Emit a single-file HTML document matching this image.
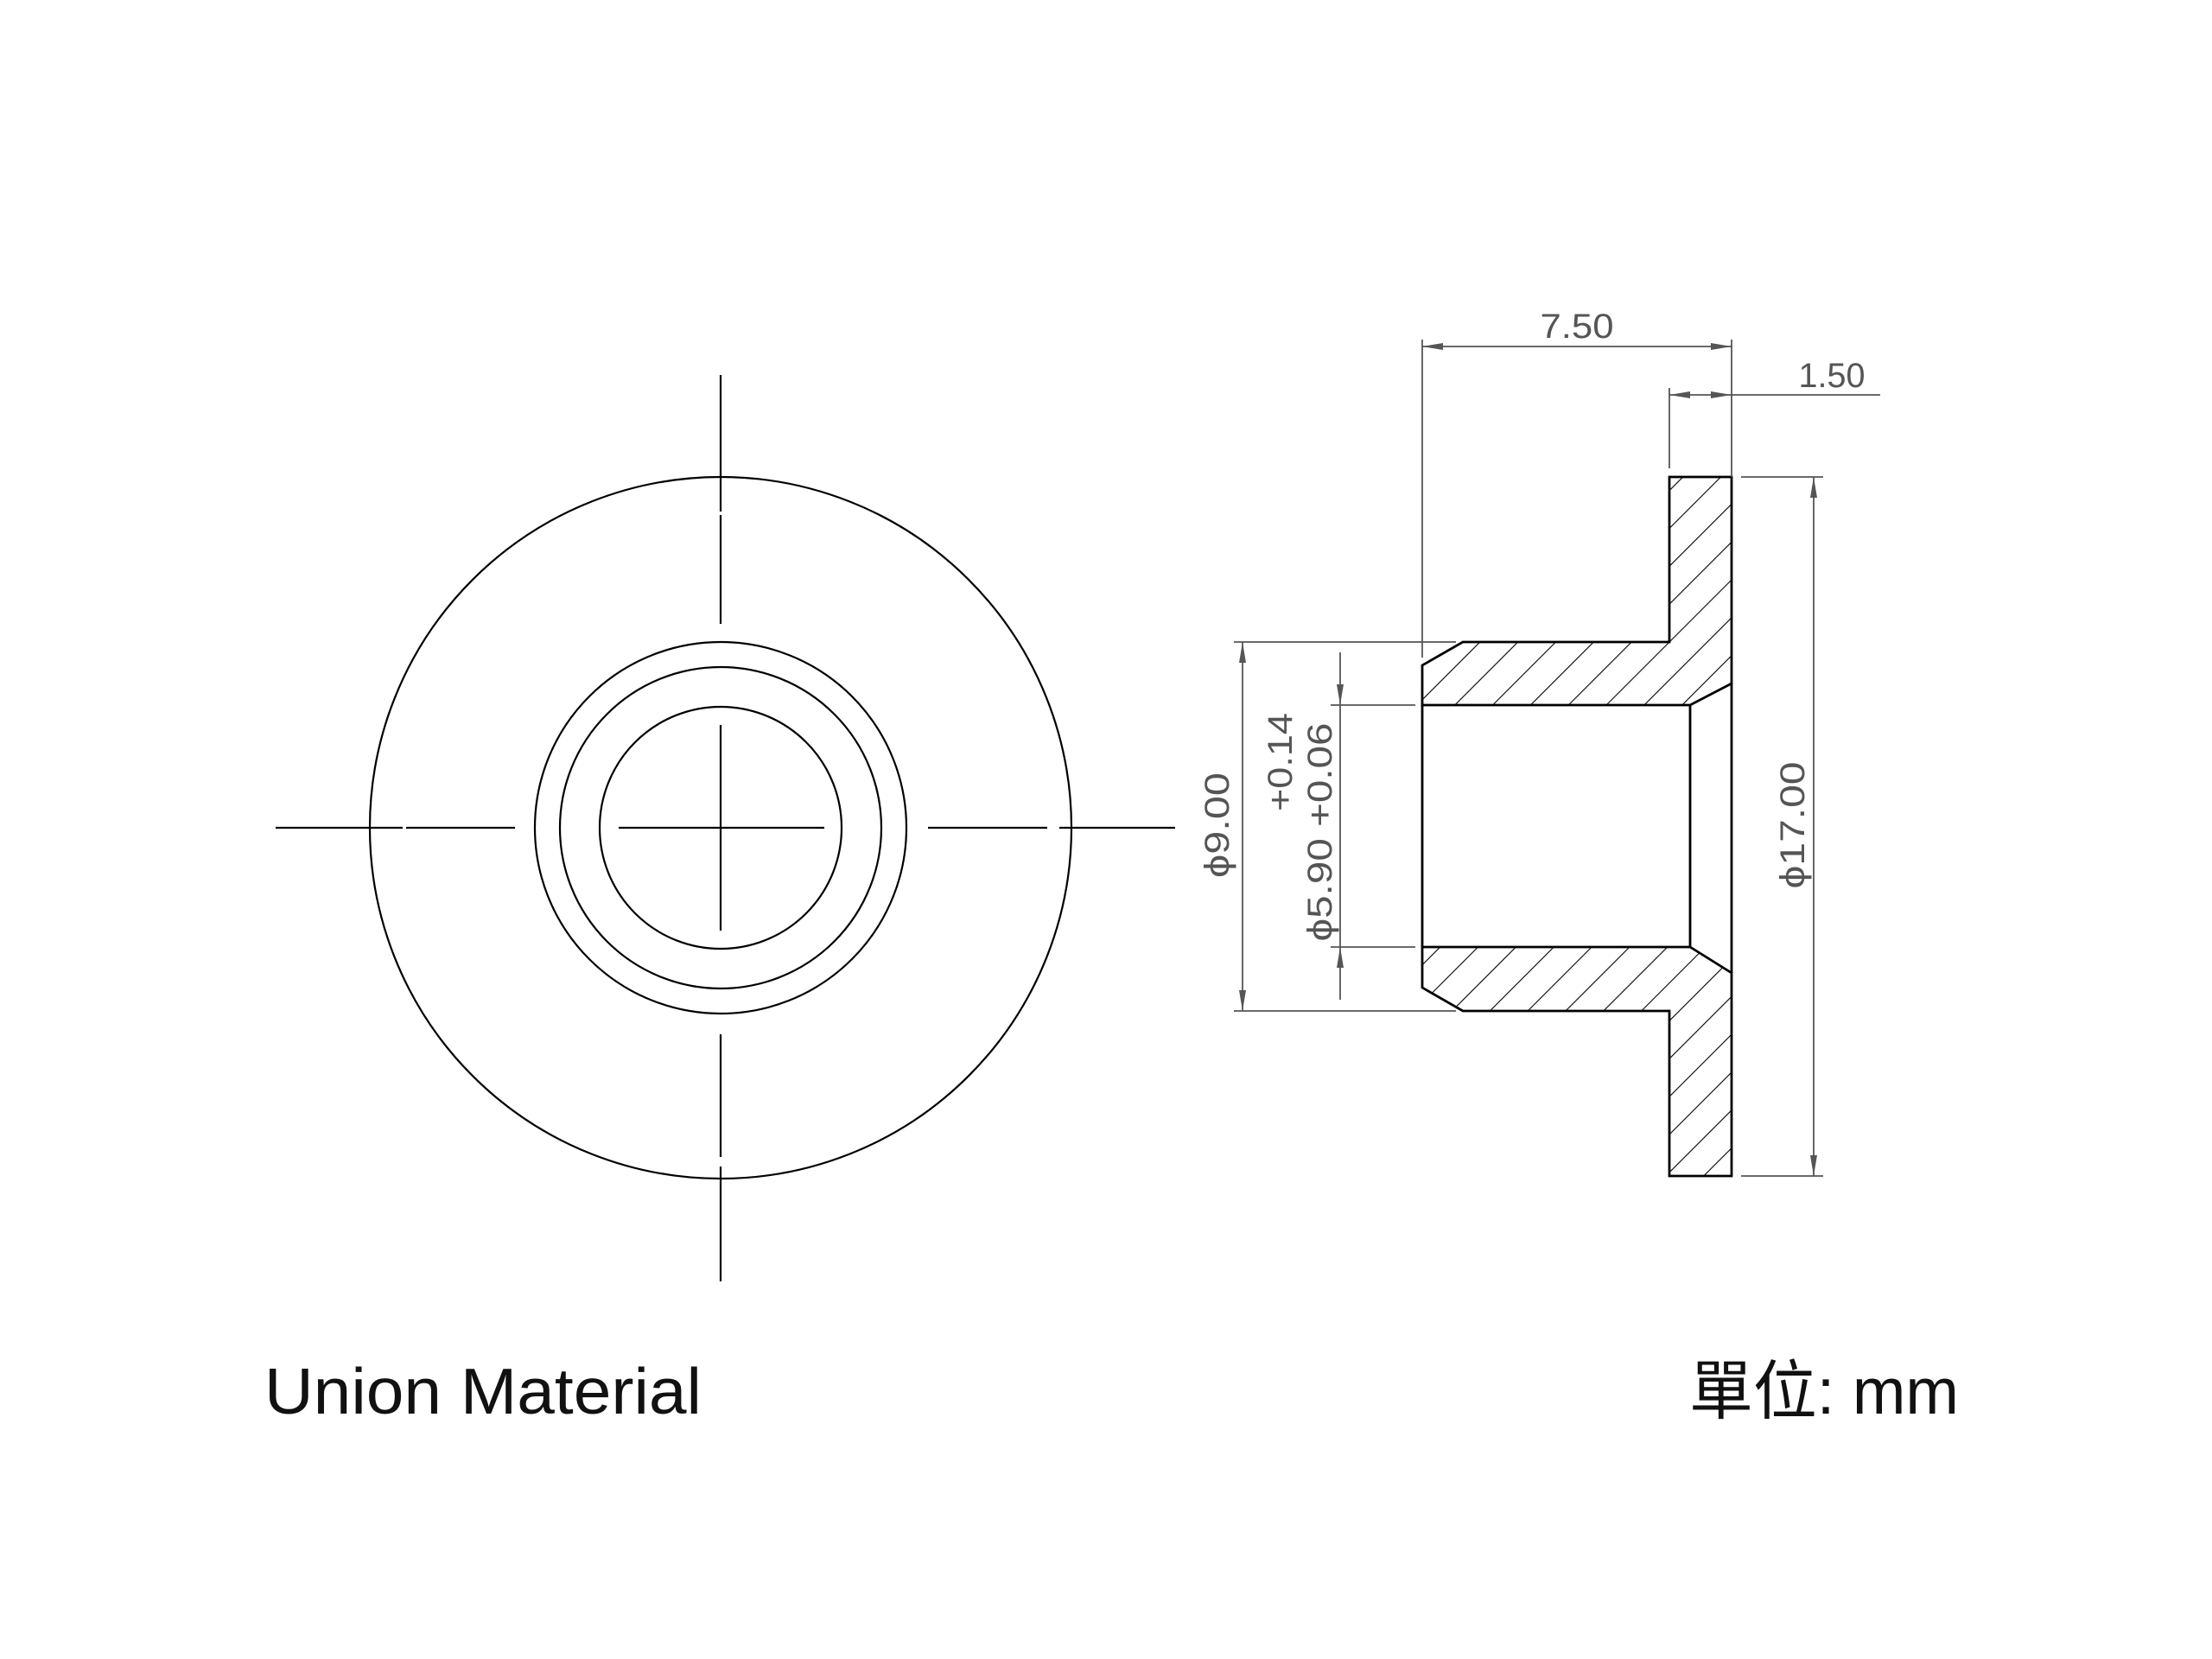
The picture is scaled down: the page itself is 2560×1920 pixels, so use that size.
<!DOCTYPE html>
<html><head><meta charset="utf-8"><style>html,body{margin:0;padding:0;background:#fff}svg{display:block}</style></head>
<body>
<svg width="2560" height="1920" viewBox="0 0 2560 1920" xmlns="http://www.w3.org/2000/svg">
<defs>
<pattern id="h" patternUnits="userSpaceOnUse" width="31" height="31" patternTransform="rotate(45)">
<line x1="0" y1="0" x2="0" y2="31" stroke="#000" stroke-width="2.2"/>
</pattern>
<marker id="a" markerWidth="24" markerHeight="10" refX="24" refY="5" orient="auto" markerUnits="userSpaceOnUse">
<path d="M0,1 L24,5 L0,9 Z" fill="#555"/></marker>
</defs>
<g fill="none" stroke="#000" stroke-width="2.2">
<circle cx="834" cy="958" r="406"/>
<circle cx="834" cy="958" r="215"/>
<circle cx="834" cy="958" r="186"/>
<circle cx="834" cy="958" r="140"/>
<path d="M319 958H466M470 958H596M716 958H954M1074 958H1212M1226 958H1360"/>
<path d="M834 434V592M834 596V722M834 839V1077M834 1197V1339M834 1350V1483"/>
</g>
<g stroke="#000" stroke-width="2.8" stroke-linejoin="miter">
<path d="M1646 770L1693 743H1932V552H2004V791L1956 816H1646Z" fill="url(#h)"/>
<path d="M1646 1096H1956L2004 1126V1361H1932V1170H1693L1646 1143Z" fill="url(#h)"/>
<path d="M1646 816V1096M1956 816V1096M2004 791V1126" fill="none"/>
</g>
<g stroke="#555" stroke-width="1.8" fill="none">
<path d="M1646 393V761M2004 393V552M1932 449V542"/>
<line x1="1825" y1="401" x2="1646" y2="401" marker-end="url(#a)"/>
<line x1="1825" y1="401" x2="2004" y2="401" marker-end="url(#a)"/>
<line x1="2004" y1="457" x2="2176" y2="457"/>
<line x1="1968" y1="457" x2="1932" y2="457" marker-end="url(#a)"/>
<line x1="1968" y1="457" x2="2004" y2="457" marker-end="url(#a)"/>
<path d="M2015 552H2110M2015 1361H2110"/>
<line x1="2099" y1="956" x2="2099" y2="552" marker-end="url(#a)"/>
<line x1="2099" y1="956" x2="2099" y2="1361" marker-end="url(#a)"/>
<path d="M1428 743H1685M1428 1170H1685"/>
<line x1="1438" y1="956" x2="1438" y2="743" marker-end="url(#a)"/>
<line x1="1438" y1="956" x2="1438" y2="1170" marker-end="url(#a)"/>
<path d="M1540 816H1638M1540 1096H1638M1551 816V1096"/>
<line x1="1551" y1="755" x2="1551" y2="816" marker-end="url(#a)"/>
<line x1="1551" y1="1157" x2="1551" y2="1096" marker-end="url(#a)"/>
</g>
<g font-family="'Liberation Sans', sans-serif" fill="#555" font-size="40">
<text x="1825" y="391" text-anchor="middle" textLength="85" lengthAdjust="spacingAndGlyphs">7.50</text>
<text x="2120" y="448" text-anchor="middle" textLength="77" lengthAdjust="spacingAndGlyphs">1.50</text>
<text transform="translate(2088,955) rotate(-90)" text-anchor="middle" textLength="147" lengthAdjust="spacingAndGlyphs">ϕ17.00</text>
<text transform="translate(1422,955) rotate(-90)" text-anchor="middle" textLength="122" lengthAdjust="spacingAndGlyphs">ϕ9.00</text>
<text transform="translate(1541,963) rotate(-90)" text-anchor="middle" textLength="253" lengthAdjust="spacingAndGlyphs">ϕ5.90 +0.06</text>
<text transform="translate(1495,882) rotate(-90)" text-anchor="middle" textLength="114" lengthAdjust="spacingAndGlyphs">+0.14</text>
</g>
<g font-family="'Liberation Sans', 'Noto Sans CJK TC', sans-serif" fill="#111" font-size="75">
<text x="306" y="1636" textLength="506" lengthAdjust="spacingAndGlyphs">Union Material</text>
<text x="1955" y="1636" textLength="312" lengthAdjust="spacingAndGlyphs">單位: mm</text>
</g>
</svg>
</body></html>
